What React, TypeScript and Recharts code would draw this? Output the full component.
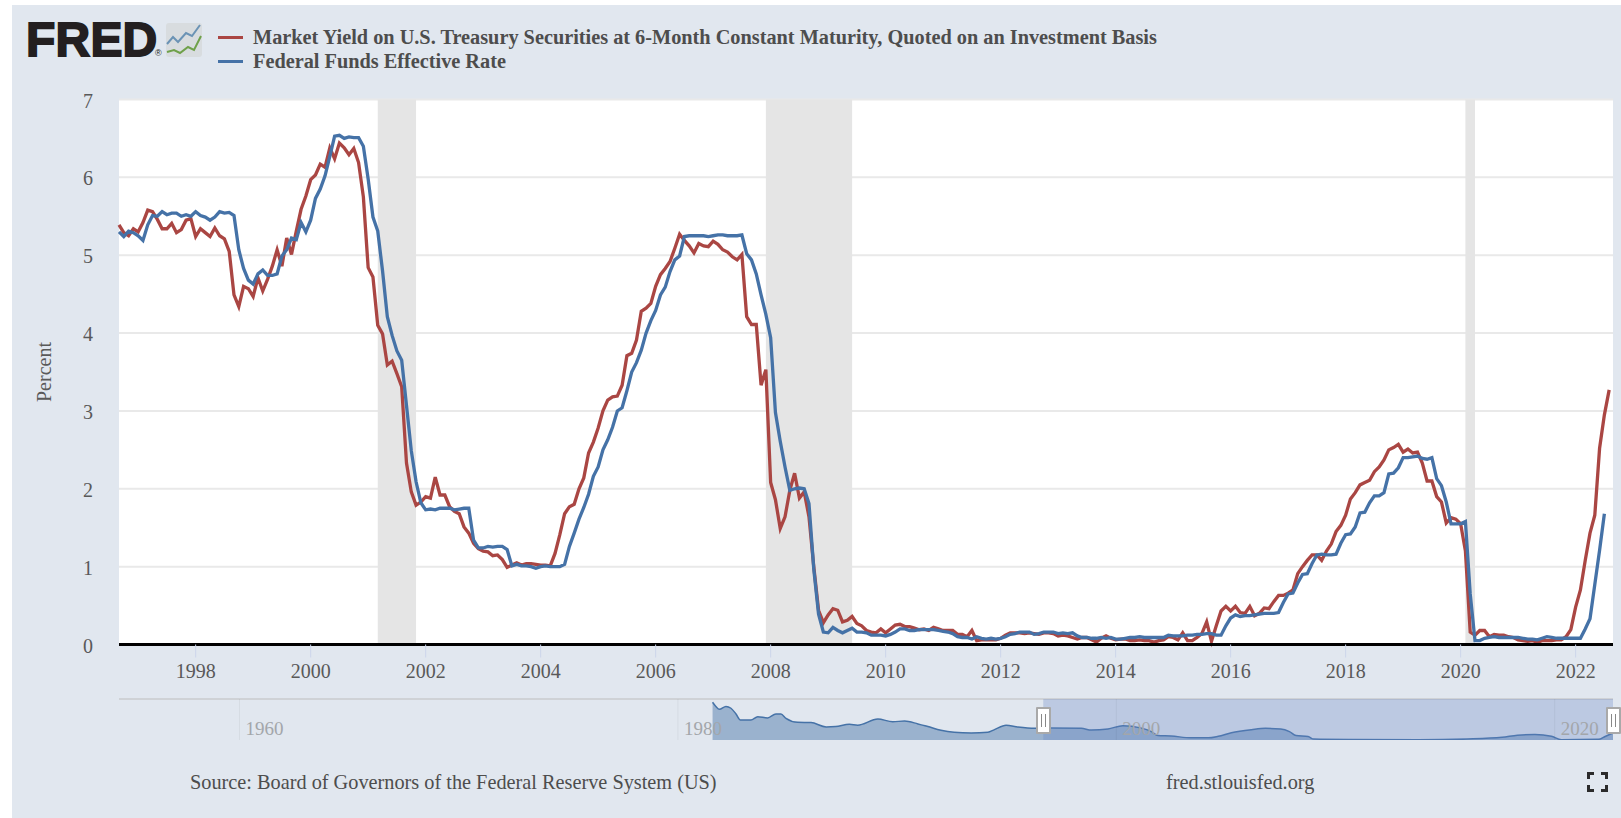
import React from "react";
import {
  Area,
  AreaChart,
  CartesianGrid,
  Line,
  LineChart,
  ReferenceArea,
  ReferenceLine,
  XAxis,
  YAxis,
} from "recharts";

const SERIF = '"Liberation Serif", serif';
const PAGE_BG = "#e1e7ef";
const RED = "#AA4643";
const BLUE = "#4572A7";

const YIELD_NAME =
  "Market Yield on U.S. Treasury Securities at 6-Month Constant Maturity, Quoted on an Investment Basis";
const FUNDS_NAME = "Federal Funds Effective Rate";

// monthly, Sep 1996 to Aug 2022
const yieldValues = [
  5.39, 5.29, 5.25, 5.34,
  5.3, 5.42, 5.58, 5.56, 5.46, 5.34, 5.34, 5.41, 5.29, 5.33, 5.45, 5.47,
  5.24, 5.34, 5.29, 5.24, 5.35, 5.25, 5.21, 5.05, 4.49, 4.34, 4.6, 4.57,
  4.47, 4.71, 4.54, 4.69, 4.86, 5.07, 4.86, 5.22, 5.01, 5.31, 5.59, 5.76,
  5.97, 6.03, 6.17, 6.13, 6.38, 6.24, 6.44, 6.38, 6.29, 6.37, 6.19, 5.75,
  4.84, 4.72, 4.1, 3.99, 3.59, 3.64, 3.48, 3.31, 2.33, 1.96, 1.79, 1.83,
  1.9, 1.88, 2.15, 1.92, 1.92, 1.77, 1.71, 1.68, 1.51, 1.43, 1.3, 1.23,
  1.2, 1.19, 1.14, 1.15, 1.09, 0.99, 1.02, 1.05, 1.02, 1.04, 1.04, 1.03,
  1.02, 1.02, 1.01, 1.17, 1.41, 1.68, 1.77, 1.8, 2.0, 2.14, 2.46, 2.6,
  2.78, 3.0, 3.14, 3.18, 3.19, 3.33, 3.71, 3.74, 3.91, 4.28, 4.32, 4.38,
  4.6, 4.75, 4.83, 4.92, 5.09, 5.27, 5.19, 5.12, 5.03, 5.15, 5.12, 5.11,
  5.18, 5.14, 5.07, 5.04, 4.98, 4.94, 5.01, 4.21, 4.11, 4.11, 3.33, 3.53,
  2.08, 1.86, 1.49, 1.64, 1.98, 2.2, 1.88, 1.96, 1.64, 1.0, 0.44, 0.28,
  0.38, 0.46, 0.44, 0.29, 0.31, 0.36, 0.27, 0.24, 0.18, 0.16, 0.15, 0.2,
  0.15, 0.2, 0.25, 0.26, 0.23, 0.23, 0.21, 0.19, 0.2, 0.18, 0.22, 0.2,
  0.18, 0.18, 0.18, 0.13, 0.13, 0.1, 0.18, 0.05, 0.06, 0.06, 0.06, 0.06,
  0.08, 0.12, 0.15, 0.15, 0.15, 0.14, 0.15, 0.14, 0.13, 0.15, 0.15, 0.14,
  0.11, 0.12, 0.11, 0.09, 0.07, 0.09, 0.09, 0.06, 0.03, 0.08, 0.11, 0.08,
  0.06, 0.07, 0.07, 0.05, 0.05, 0.06, 0.05, 0.05, 0.03, 0.05, 0.06, 0.1,
  0.09, 0.06, 0.15, 0.05, 0.05, 0.09, 0.14, 0.29, 0.04, 0.24, 0.43, 0.49,
  0.43, 0.49, 0.41, 0.4, 0.49, 0.37, 0.4, 0.47, 0.46, 0.55, 0.63, 0.63,
  0.66, 0.7, 0.91, 1.0, 1.08, 1.15, 1.15, 1.08, 1.2, 1.29, 1.45, 1.53,
  1.66, 1.87, 1.95, 2.05, 2.08, 2.11, 2.22, 2.28, 2.37, 2.5, 2.53, 2.57,
  2.47, 2.51, 2.46, 2.47, 2.33, 2.1, 2.1, 1.9, 1.83, 1.56, 1.63, 1.61,
  1.55, 1.2, 0.16, 0.12, 0.18, 0.18, 0.1, 0.13, 0.12, 0.12, 0.1, 0.09,
  0.06, 0.05, 0.04, 0.05, 0.03, 0.05, 0.05, 0.05, 0.06, 0.06, 0.1, 0.19,
  0.48, 0.7, 1.08, 1.43, 1.66, 2.52, 2.95, 3.27,
];

// monthly, Sep 1996 to Jul 2022
const fundsValues = [
  5.3, 5.24, 5.31, 5.29,
  5.25, 5.19, 5.39, 5.51, 5.5, 5.56, 5.52, 5.54, 5.54, 5.5, 5.52, 5.5,
  5.56, 5.51, 5.49, 5.45, 5.49, 5.56, 5.54, 5.55, 5.51, 5.07, 4.83, 4.68,
  4.63, 4.76, 4.81, 4.74, 4.74, 4.76, 4.99, 5.07, 5.22, 5.2, 5.42, 5.3,
  5.45, 5.73, 5.85, 6.02, 6.27, 6.53, 6.54, 6.5, 6.52, 6.51, 6.51, 6.4,
  5.98, 5.49, 5.31, 4.8, 4.21, 3.97, 3.77, 3.65, 3.07, 2.49, 2.09, 1.82,
  1.73, 1.74, 1.73, 1.75, 1.75, 1.75, 1.73, 1.74, 1.75, 1.75, 1.34, 1.24,
  1.24, 1.26, 1.25, 1.26, 1.26, 1.22, 1.01, 1.03, 1.01, 1.01, 1.0, 0.98,
  1.0, 1.01, 1.0, 1.0, 1.0, 1.03, 1.26, 1.43, 1.61, 1.76, 1.93, 2.16,
  2.28, 2.5, 2.63, 2.79, 3.0, 3.04, 3.26, 3.5, 3.62, 3.78, 4.0, 4.16,
  4.29, 4.49, 4.59, 4.79, 4.94, 4.99, 5.24, 5.25, 5.25, 5.25, 5.25, 5.24,
  5.25, 5.26, 5.26, 5.25, 5.25, 5.25, 5.26, 5.02, 4.94, 4.76, 4.49, 4.24,
  3.94, 2.98, 2.61, 2.28, 1.98, 2.0, 2.01, 2.0, 1.81, 0.97, 0.39, 0.16,
  0.15, 0.22, 0.18, 0.15, 0.18, 0.21, 0.16, 0.16, 0.15, 0.12, 0.12, 0.12,
  0.11, 0.13, 0.16, 0.2, 0.2, 0.18, 0.18, 0.19, 0.19, 0.19, 0.19, 0.18,
  0.17, 0.16, 0.14, 0.1, 0.09, 0.09, 0.07, 0.1, 0.08, 0.07, 0.08, 0.07,
  0.08, 0.1, 0.13, 0.14, 0.16, 0.16, 0.16, 0.13, 0.14, 0.16, 0.16, 0.16,
  0.14, 0.15, 0.14, 0.15, 0.11, 0.09, 0.09, 0.08, 0.08, 0.09, 0.08, 0.09,
  0.07, 0.07, 0.08, 0.09, 0.09, 0.1, 0.09, 0.09, 0.09, 0.09, 0.09, 0.12,
  0.11, 0.11, 0.11, 0.12, 0.12, 0.13, 0.13, 0.14, 0.14, 0.12, 0.12, 0.24,
  0.34, 0.38, 0.36, 0.37, 0.37, 0.38, 0.39, 0.4, 0.4, 0.4, 0.41, 0.54,
  0.65, 0.66, 0.79, 0.9, 0.91, 1.04, 1.15, 1.16, 1.15, 1.15, 1.16, 1.3,
  1.41, 1.42, 1.51, 1.69, 1.7, 1.82, 1.91, 1.91, 1.95, 2.19, 2.2, 2.27,
  2.4, 2.4, 2.41, 2.42, 2.39, 2.38, 2.4, 2.13, 2.04, 1.83, 1.55, 1.55,
  1.55, 1.58, 0.65, 0.05, 0.05, 0.08, 0.09, 0.1, 0.09, 0.09, 0.09, 0.09,
  0.09, 0.08, 0.07, 0.07, 0.06, 0.08, 0.1, 0.09, 0.08, 0.08, 0.08, 0.08,
  0.08, 0.08, 0.2, 0.33, 0.77, 1.21, 1.68,
];

const recessions = [
  [2001.167, 2001.833],
  [2007.917, 2009.417],
  [2020.083, 2020.25],
];

const yearTicks = [1998, 2000, 2002, 2004, 2006, 2008, 2010, 2012, 2014, 2016, 2018, 2020, 2022];
const percentTicks = [0, 1, 2, 3, 4, 5, 6, 7];

const navYears = [
  1981.58, 1981.73, 1981.89, 1982.19, 1982.42, 1982.65, 1982.85, 1983.33, 1983.64, 1984.09,
  1984.47, 1984.7, 1984.93, 1985.46, 1986.07, 1986.76, 1987.2, 1987.82, 1988.2, 1989.12,
  1989.8, 1990.34, 1990.95, 1991.4, 1992.0, 1992.6, 1993.38, 1994.14, 1994.44, 1994.97,
  1995.51, 1996.27, 1997.03, 1998.4, 1998.86, 1999.62, 2000.3, 2001.1, 2001.6, 2001.9,
  2002.5, 2003.4, 2004.2, 2004.65, 2005.25, 2006.17, 2006.8, 2007.5, 2007.9, 2008.2,
  2008.75, 2009.0, 2010.7, 2013.8, 2016.0, 2017.6, 2018.3, 2019.1, 2019.85, 2020.3,
  2022.0, 2022.3, 2022.66,
];
const navValues = [
  17.1, 15.2, 13.9, 15.2, 14.4, 11.8, 9.1, 9.1, 10.6, 10.0,
  11.8, 11.8, 9.8, 8.0, 7.9, 5.9, 6.1, 7.1, 6.7, 9.5,
  8.3, 8.6, 7.3, 6.1, 4.4, 3.5, 3.2, 3.5, 4.7, 6.7,
  5.9, 5.3, 5.5, 5.3, 4.5, 5.0, 6.5, 5.5, 3.8, 2.0,
  1.8, 1.0, 1.0, 1.7, 3.3, 4.7, 5.3, 5.0, 3.8, 2.0,
  1.6, 0.4, 0.2, 0.1, 0.45, 1.2, 2.2, 2.5, 1.7, 0.15,
  0.3, 1.6, 3.2,
];
const navTicks = [1960, 1980, 2000, 2020];

const START = 1996 + 8 / 12;
const chartData = yieldValues.map((value, i) => ({
  t: START + i / 12,
  yield6m: value,
  funds: fundsValues[i],
}));
const navData = navYears.map((t, i) => ({ t, value: navValues[i] }));

function NavLabel({ viewBox, value }: any) {
  return (
    <text
      x={viewBox.x + 6}
      y={29}
      dy="0.35em"
      fill="#a3a6aa"
      fontSize={19}
      fontFamily={SERIF}
    >
      {value}
    </text>
  );
}

function Handle({ left }: { left: number }) {
  return (
    <div
      style={{
        position: "absolute",
        left,
        top: 707,
        width: 11,
        height: 23,
        background: "#fff",
        border: "2px solid #a9a9a9",
        borderRadius: 1,
      }}
    >
      <div style={{ position: "absolute", left: 3, top: 5, width: 1, height: 13, background: "#888" }} />
      <div style={{ position: "absolute", left: 7, top: 5, width: 1, height: 13, background: "#888" }} />
    </div>
  );
}

function LegendRow({ top, color, text }: { top: number; color: string; text: string }) {
  return (
    <>
      <div style={{ position: "absolute", left: 218, top: top - 1.5, width: 25, height: 3, background: color }} />
      <div
        style={{
          position: "absolute",
          left: 253,
          top: top - 12,
          lineHeight: "24px",
          fontFamily: SERIF,
          fontWeight: "bold",
          fontSize: 20.3,
          color: "#4d4d4d",
          whiteSpace: "nowrap",
        }}
      >
        {text}
      </div>
    </>
  );
}

function FredLogo() {
  return (
    <>
      <div
        style={{
          position: "absolute",
          left: 26,
          top: 16,
          fontFamily: '"Liberation Sans", sans-serif',
          fontWeight: 700,
          fontSize: 48,
          lineHeight: "48px",
          letterSpacing: 0.2,
          color: "#231f20",
          WebkitTextStroke: "1.8px #231f20",
        }}
      >
        FRED
      </div>
      <div
        style={{
          position: "absolute",
          left: 155,
          top: 48,
          fontFamily: '"Liberation Sans", sans-serif',
          fontSize: 9,
          lineHeight: "10px",
          color: "#231f20",
        }}
      >
        ®
      </div>
      <svg style={{ position: "absolute", left: 166, top: 23 }} width={36} height={34}>
        <rect width={36} height={34} rx={3} fill="#d8dcdf" />
        <polyline points="1,21 7,14 12,19 20,10 26,13 34,2" fill="none" stroke="#6b93b5" strokeWidth={2} />
        <polyline points="1,29 8,27 14,30 22,24 28,27 35,13" fill="none" stroke="#6fa14a" strokeWidth={2} />
      </svg>
    </>
  );
}

export default function App() {
  return (
    <div style={{ position: "absolute", left: 0, top: 0, width: 1621, height: 818, background: "#fff", overflow: "hidden" }}>
      <div style={{ position: "absolute", left: 12, top: 5, right: 0, bottom: 0, background: PAGE_BG }} />
      <FredLogo />
      <LegendRow top={37} color={RED} text={YIELD_NAME} />
      <LegendRow top={61} color={BLUE} text={FUNDS_NAME} />

      <div style={{ position: "absolute", left: 0, top: 0 }}>
        <LineChart
          width={1621}
          height={700}
          data={chartData}
          margin={{ top: 99.5, right: 8, bottom: 15.5, left: 12 }}
        >
          <CartesianGrid fill="#fff" vertical={false} stroke="#e9e9e9" strokeWidth={2} />
          <XAxis
            type="number"
            dataKey="t"
            domain={[START, 2022.65]}
            ticks={yearTicks}
            interval={0}
            height={40}
            tickFormatter={(v) => String(v)}
            axisLine={{ stroke: "#000", strokeWidth: 3 }}
            tickLine={{ stroke: "#ccd6eb", strokeWidth: 1 }}
            tickSize={13}
            tickMargin={6}
            tick={{ fill: "#595959", fontSize: 20, fontFamily: SERIF }}
          />
          <YAxis
            type="number"
            domain={[0, 7]}
            ticks={percentTicks}
            interval={0}
            width={107}
            axisLine={false}
            tickLine={false}
            tickSize={0}
            tickMargin={26}
            tick={{ fill: "#595959", fontSize: 20, fontFamily: SERIF, dy: 1 }}
            label={{
              value: "Percent",
              angle: -90,
              position: "center",
              dx: -22,
              fill: "#595959",
              fontSize: 20,
              fontFamily: SERIF,
            }}
          />
          {recessions.map(([from, to]) => (
            <ReferenceArea key={from} x1={from} x2={to} fill="#e5e5e5" fillOpacity={1} stroke="none" />
          ))}
          <Line
            type="linear"
            dataKey="yield6m"
            stroke={RED}
            strokeWidth={3.3}
            dot={false}
            isAnimationActive={false}
          />
          <Line
            type="linear"
            dataKey="funds"
            stroke={BLUE}
            strokeWidth={3.3}
            dot={false}
            isAnimationActive={false}
          />
        </LineChart>
      </div>

      <div style={{ position: "absolute", left: 119, top: 698, width: 1494, height: 2, background: "#cfd2d6" }} />
      <div style={{ position: "absolute", left: 119, top: 699 }}>
        <AreaChart width={1494} height={41} data={navData} margin={{ top: 0, right: 0, bottom: 0, left: 0 }}>
          <XAxis type="number" dataKey="t" domain={[1954.5, 2022.66]} hide />
          <YAxis type="number" domain={[0, 18.6]} hide />
          {navTicks.map((year) => (
            <ReferenceLine
              key={year}
              x={year}
              stroke="#000"
              strokeOpacity={0.05}
              label={(props: any) => <NavLabel {...props} value={year} />}
            />
          ))}
          <Area
            type="monotone"
            dataKey="value"
            stroke={BLUE}
            strokeWidth={1.5}
            fill={BLUE}
            fillOpacity={0.45}
            dot={false}
            isAnimationActive={false}
          />
          <ReferenceArea x1={START} x2={2022.66} fill="#6685c2" fillOpacity={0.3} stroke="none" />
        </AreaChart>
      </div>
      <Handle left={1036} />
      <Handle left={1606} />

      <div style={{ position: "absolute", left: 190, top: 770, lineHeight: "24px", fontFamily: SERIF, fontSize: 20.3, color: "#4d4d4d", whiteSpace: "nowrap" }}>
        Source: Board of Governors of the Federal Reserve System (US)
      </div>
      <div style={{ position: "absolute", left: 1166, top: 770, lineHeight: "24px", fontFamily: SERIF, fontSize: 20.3, color: "#4d4d4d", whiteSpace: "nowrap" }}>
        fred.stlouisfed.org
      </div>
      <svg style={{ position: "absolute", left: 1587, top: 772 }} width={21} height={20}>
        <path d="M1.5 7V1.5H7M14 1.5H19.5V7M1.5 13V18.5H7M19.5 13V18.5H14" fill="none" stroke="#2b2b2b" strokeWidth={3} />
      </svg>
    </div>
  );
}
